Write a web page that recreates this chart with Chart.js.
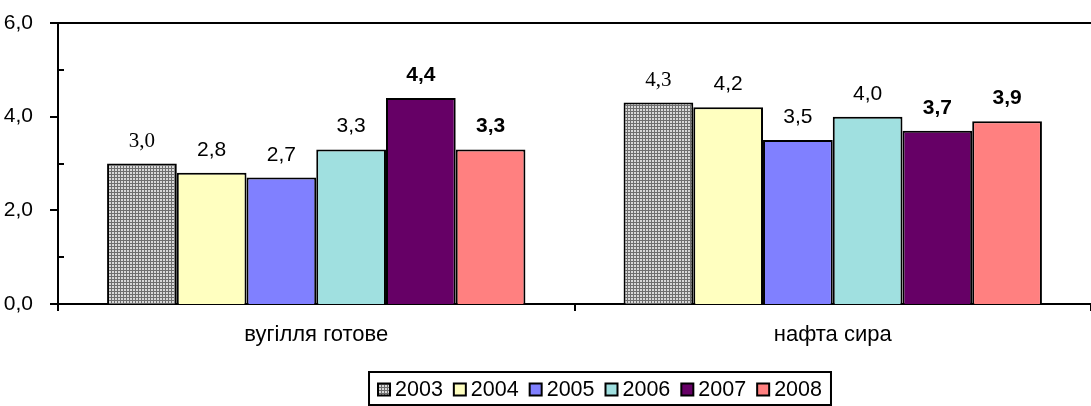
<!DOCTYPE html>
<html>
<head>
<meta charset="utf-8">
<script src="https://cdn.jsdelivr.net/npm/chart.js@4/dist/chart.umd.min.js"></script>
<style>
  html, body { margin: 0; padding: 0; background: #fff; }
  #wrap { width: 1091px; height: 406px; }
</style>
</head>
<body>
<div id="wrap"><canvas id="chart" width="1091" height="406"></canvas></div>
<script>
"use strict";

// data
const categories = ['вугілля готове', 'нафта сира'];
const years = ['2003', '2004', '2005', '2006', '2007', '2008'];
const values2003 = [3.0, 4.3];
const values2004 = [2.8, 4.2];
const values2005 = [2.7, 3.5];
const values2006 = [3.3, 4.0];
const values2007 = [4.4, 3.7];
const values2008 = [3.3, 3.9];
const yTicks = [0, 2, 4, 6];

const SANS = '"Liberation Sans", Arial, sans-serif';
const SERIF = '"Liberation Serif", "Times New Roman", serif';

// grey checked fill like the 2003 bars
function makePattern() {
    const c = document.createElement('canvas');
    c.width = 3; c.height = 3;
    const g = c.getContext('2d');
    g.fillStyle = '#d8d8d8';
    g.fillRect(0, 0, 3, 3);
    g.fillStyle = '#6e6e6e';
    g.fillRect(0, 0, 3, 1);
    g.fillRect(0, 0, 1, 3);
    return g.createPattern(c, 'repeat');
}
const pattern = makePattern();

const seriesValues = [values2003, values2004, values2005, values2006, values2007, values2008];
const colors = [pattern, '#ffffc0', '#8080ff', '#a0e0e0', '#660066', '#ff8080'];
const labelFonts = [
    '21px ' + SERIF,
    '21px ' + SANS,
    '21px ' + SANS,
    '21px ' + SANS,
    'bold 21px ' + SANS,
    'bold 21px ' + SANS
];

const fmt = v => v.toFixed(1).replace('.', ',');

// value labels, tick marks, top line and the framed legend
const extras = {
    id: 'extras',
    afterDatasetsDraw(chart) {
        const ctx = chart.ctx;
        ctx.save();
        ctx.fillStyle = '#000';
        ctx.textAlign = 'center';
        ctx.textBaseline = 'alphabetic';
        chart.data.datasets.forEach((ds, i) => {
            const meta = chart.getDatasetMeta(i);
            ctx.font = labelFonts[i];
            meta.data.forEach((bar, j) => {
                ctx.fillText(fmt(ds.data[j]), bar.x, bar.y - 17);
            });
        });
        ctx.restore();
    },
    afterDraw(chart) {
        const ctx = chart.ctx;
        const area = chart.chartArea;
        const y = chart.scales.y;
        ctx.save();
        ctx.strokeStyle = '#000';
        ctx.lineWidth = 2;
        // top line at the max value
        ctx.beginPath();
        ctx.moveTo(area.left, Math.round(y.getPixelForValue(6)));
        ctx.lineTo(area.right, Math.round(y.getPixelForValue(6)));
        ctx.stroke();
        // major ticks outside, minor ticks inside
        for (let v = 0; v <= 6; v++) {
            const py = Math.round(y.getPixelForValue(v));
            ctx.beginPath();
            if (v % 2 === 0) {
                ctx.moveTo(area.left - 8, py);
                ctx.lineTo(area.left, py);
            } else {
                ctx.moveTo(area.left, py);
                ctx.lineTo(area.left + 6, py);
            }
            ctx.stroke();
        }

        // legend
        ctx.font = '21.5px ' + SANS;
        ctx.textBaseline = 'middle';
        ctx.textAlign = 'left';
        const box = 12, gapText = 5, gapItem = 11, padX = 9;
        let total = 0;
        years.forEach((t, i) => {
            total += box + gapText + ctx.measureText(t).width;
            if (i < years.length - 1) total += gapItem;
        });
        const cx = 600;
        const top = 372, h = 33;
        const left = cx - total / 2 - padX;
        ctx.lineWidth = 2;
        ctx.strokeRect(left, top, total + padX * 2, h);
        let x = cx - total / 2;
        const my = top + h / 2 + 1;
        years.forEach((t, i) => {
            ctx.fillStyle = colors[i];
            ctx.fillRect(x, my - box / 2, box, box);
            ctx.lineWidth = 2;
            ctx.strokeRect(x, my - box / 2, box, box);
            x += box + gapText;
            ctx.fillStyle = '#000';
            ctx.fillText(t, x, my + 1);
            x += ctx.measureText(t).width + gapItem;
        });
        ctx.restore();
    }
};

const ctx = document.getElementById('chart').getContext('2d');
new Chart(ctx, {
    type: 'bar',
    data: {
        labels: categories,
        datasets: years.map((yr, i) => ({
            label: yr,
            data: seriesValues[i],
            backgroundColor: colors[i],
            borderColor: '#000',
            borderWidth: 2,
            borderSkipped: 'bottom',
            categoryPercentage: 0.81,
            barPercentage: 1.0
        }))
    },
    options: {
        responsive: false,
        animation: false,
        events: [],
        layout: { padding: { top: 23, right: 0, bottom: 50, left: 0 } },
        plugins: {
            legend: { display: false },
            tooltip: { enabled: false }
        },
        scales: {
            x: {
                grid: {
                    display: true,
                    drawOnChartArea: false,
                    drawTicks: true,
                    tickLength: 7,
                    color: '#000',
                    lineWidth: 2
                },
                border: { display: true, color: '#000', width: 2 },
                ticks: {
                    color: '#000',
                    font: { family: SANS, size: 22 },
                    padding: 11
                },
                afterFit(scale) {
                    scale.height = 52;
                    scale.paddingLeft = 0;
                    scale.paddingRight = 0;
                }
            },
            y: {
                min: 0,
                max: 6,
                grid: { display: false },
                border: { display: true, color: '#000', width: 2 },
                ticks: {
                    stepSize: 1,
                    color: '#000',
                    font: { family: SANS, size: 21 },
                    padding: 17,
                    callback: v => yTicks.includes(v) ? fmt(v) : ''
                },
                afterFit(scale) {
                    scale.width = 58;
                    scale.paddingTop = 0;
                    scale.paddingBottom = 0;
                }
            }
        }
    },
    plugins: [extras]
});
</script>
</body>
</html>
